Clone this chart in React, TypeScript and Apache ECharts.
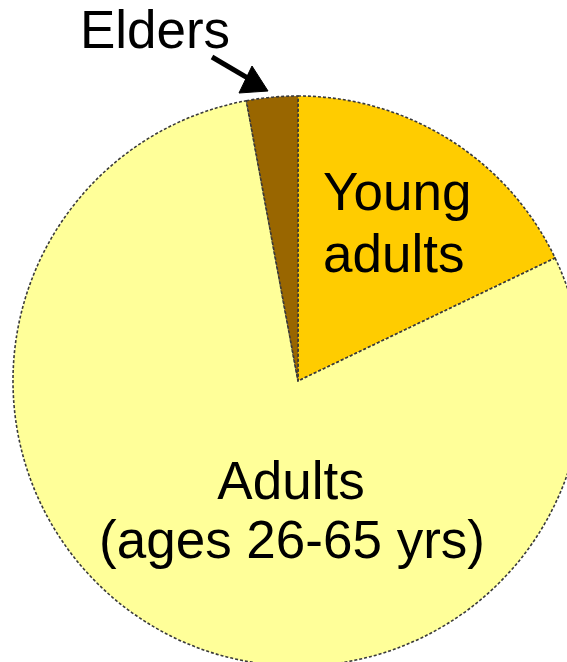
import React, { useEffect, useRef } from "react";
import * as echarts from "echarts";

const categories = ["Young adults", "Adults (ages 26-65 yrs)", "Elders"];
const values = [17.9, 79.2, 2.9];
const colors = ["#FFCC00", "#FFFF99", "#996600"];
const youngLines = ["Young", "adults"];
const adultLines = ["Adults", "(ages 26-65 yrs)"];
const elderLabel = "Elders";

const FONT = "53px 'Liberation Sans', Arial, Helvetica, sans-serif";

export default function App() {
  const ref = useRef<HTMLDivElement>(null);
  useEffect(() => {
    document.body.style.margin = "0";
    if (!ref.current) return;
    const chart = echarts.init(ref.current, null, { renderer: "svg" });
    const txt = (text: string, x: number, y: number, align: string) => ({
      type: "text",
      x,
      y,
      silent: true,
      z: 10,
      style: { text, fill: "#000", font: FONT, textAlign: align, textVerticalAlign: "middle" },
    });
    chart.setOption({
      animation: false,
      backgroundColor: "#ffffff",
      series: [
        {
          type: "pie",
          center: [298, 381],
          radius: 285,
          startAngle: 90,
          clockwise: true,
          silent: true,
          label: { show: false },
          labelLine: { show: false },
          itemStyle: { borderColor: "#3a3a3a", borderWidth: 1.6, borderType: [3, 2] },
          emphasis: { disabled: true },
          data: categories.map((name, i) => ({
            name,
            value: values[i],
            itemStyle: { color: colors[i] },
          })),
        },
      ],
      graphic: [
        txt(elderLabel, 155, 29, "center"),
        txt(youngLines[0], 323, 191, "left"),
        txt(youngLines[1], 323, 253, "left"),
        txt(adultLines[0], 291, 480, "center"),
        txt(adultLines[1], 292, 539, "center"),
        {
          type: "line",
          silent: true,
          z: 10,
          shape: { x1: 212, y1: 57, x2: 258, y2: 84 },
          style: { stroke: "#000", lineWidth: 5 },
        },
        {
          type: "polygon",
          silent: true,
          z: 10,
          shape: { points: [[252, 66], [268, 91], [239, 93]] },
          style: { fill: "#000", stroke: "#000", lineWidth: 1 },
        },
      ],
    });
    return () => chart.dispose();
  }, []);
  return <div ref={ref} style={{ width: 567, height: 662 }} />;
}
